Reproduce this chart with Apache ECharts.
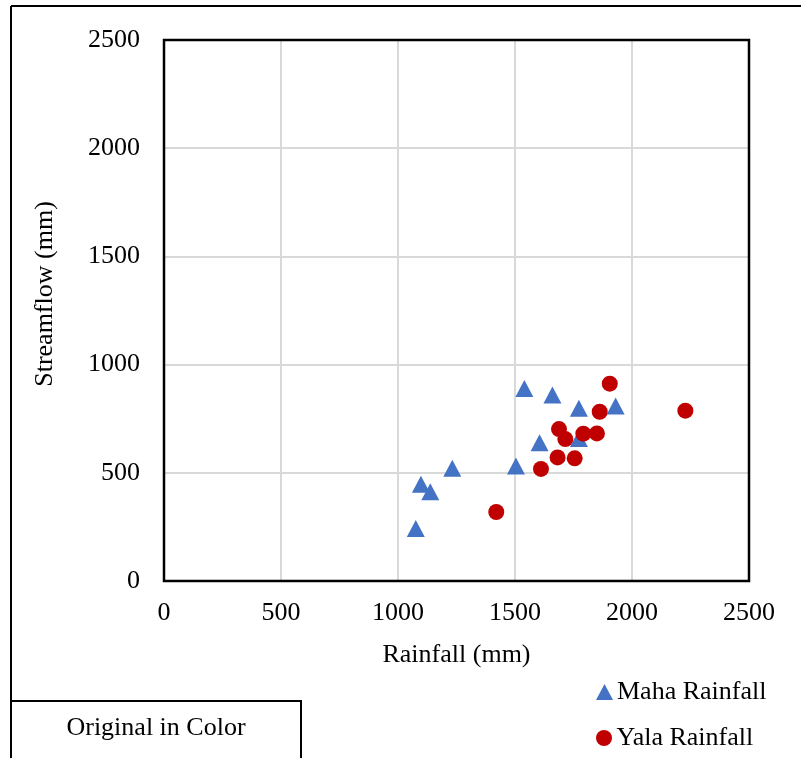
<!DOCTYPE html>
<html>
<head>
<meta charset="utf-8">
<script src="https://cdn.jsdelivr.net/npm/echarts@6/dist/echarts.min.js"></script>
<style>
html,body{margin:0;padding:0;background:#fff;}
#chart{width:801px;height:758px;}
</style>
</head>
<body>
<div id="chart"></div>
<script>
const mahaRainfall = [1540, 1660, 1773, 1930, 1605, 1773, 1504, 1232, 1098, 1138, 1076];
const mahaStreamflow = [890, 860, 798, 809, 639, 659, 531, 521, 447, 413, 243];
const yalaRainfall = [1905, 2228, 1862, 1688, 1715, 1792, 1850, 1682, 1755, 1611, 1420];
const yalaStreamflow = [912, 787, 782, 702, 656, 681, 682, 571, 567, 518, 319];
const seriesNames = ['Maha Rainfall', 'Yala Rainfall'];
const xTitle = 'Rainfall (mm)';
const yTitle = 'Streamflow (mm)';
const noteText = 'Original in Color';

const font = 'Liberation Serif';
const fs = 26;
const chart = echarts.init(document.getElementById('chart'), null, {renderer: 'canvas'});
const zip = (a, b) => a.map((v, i) => [v, b[i]]);
const legendText = {fontFamily: font, fontSize: fs, color: '#000', padding: [0, 0, 0, -1]};

chart.setOption({
  animation: false,
  backgroundColor: '#fff',
  grid: {left: 164, top: 40, width: 585, height: 541},
  xAxis: {
    type: 'value', min: 0, max: 2500, interval: 500,
    name: xTitle, nameLocation: 'middle', nameGap: 61,
    nameTextStyle: {fontFamily: font, fontSize: fs, color: '#000'},
    axisLine: {show: false}, axisTick: {show: false},
    axisLabel: {fontFamily: font, fontSize: fs, color: '#000', margin: 19, formatter: v => String(v)},
    splitLine: {show: true, lineStyle: {color: '#d9d9d9', width: 2}}
  },
  yAxis: {
    type: 'value', min: 0, max: 2500, interval: 500,
    axisLine: {show: false}, axisTick: {show: false},
    axisLabel: {fontFamily: font, fontSize: fs, color: '#000', margin: 24, formatter: v => String(v)},
    splitLine: {show: true, lineStyle: {color: '#d9d9d9', width: 2}}
  },
  legend: [
    {left: 591, top: 674, itemWidth: 17, itemHeight: 16, textStyle: legendText,
     data: [{name: seriesNames[0], icon: 'triangle'}]},
    {left: 591, top: 720, itemWidth: 17, itemHeight: 16, textStyle: legendText,
     data: [{name: seriesNames[1], icon: 'circle'}]}
  ],
  series: [
    {name: seriesNames[0], type: 'scatter', symbol: 'triangle', symbolSize: [18, 17],
     itemStyle: {color: '#4472C4', opacity: 1}, data: zip(mahaRainfall, mahaStreamflow), z: 2},
    {name: seriesNames[1], type: 'scatter', symbol: 'circle', symbolSize: 16,
     itemStyle: {color: '#C00000', opacity: 1}, data: zip(yalaRainfall, yalaStreamflow), z: 3}
  ],
  graphic: [
    {type: 'rect', shape: {x: 164, y: 40, width: 585, height: 541}, style: {fill: null, stroke: '#000', lineWidth: 2.5}, z: 1},
    {type: 'line', shape: {x1: 11, y1: 6, x2: 801, y2: 6}, style: {stroke: '#000', lineWidth: 2}},
    {type: 'line', shape: {x1: 11, y1: 6, x2: 11, y2: 758}, style: {stroke: '#000', lineWidth: 2}},
    {type: 'rect', shape: {x: 11, y: 701, width: 290, height: 70}, style: {fill: '#fff', stroke: '#000', lineWidth: 2}},
    {type: 'text', x: 156, y: 728, style: {text: noteText, font: fs + 'px "Liberation Serif"', fill: '#000', textAlign: 'center', textVerticalAlign: 'middle'}},
    {type: 'text', x: 45, y: 294, rotation: Math.PI / 2, style: {text: yTitle, font: fs + 'px "Liberation Serif"', fill: '#000', textAlign: 'center', textVerticalAlign: 'middle'}}
  ]
});
</script>
</body>
</html>
